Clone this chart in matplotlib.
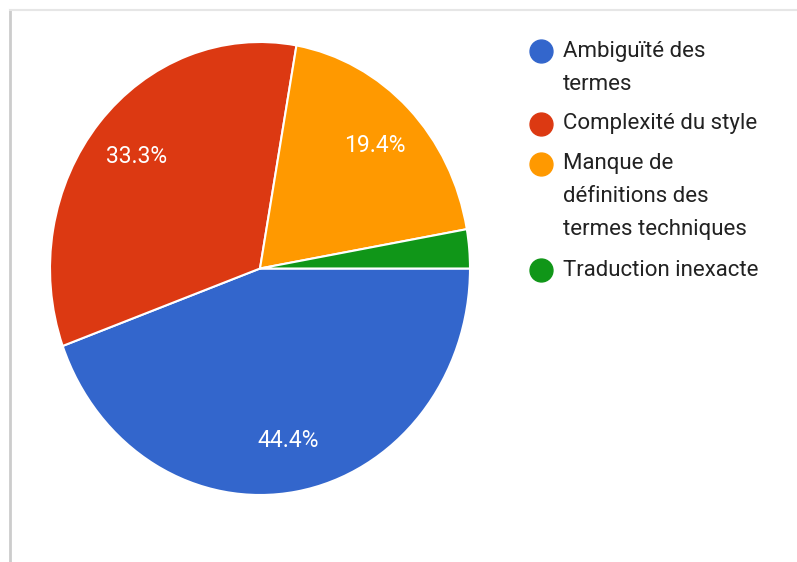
import matplotlib.pyplot as plt
from matplotlib.lines import Line2D

categories = [
    "Ambiguïté des\ntermes",
    "Complexité du style",
    "Manque de\ndéfinitions des\ntermes techniques",
    "Traduction inexacte",
]
counts = [16, 12, 7, 1]
colours = ["#3366CC", "#DC3912", "#FF9900", "#109618"]

W, H = 797, 562
fig = plt.figure(figsize=(W / 100, H / 100), dpi=100)
fig.patch.set_facecolor("white")

# pie box in pixels (the screenshot is a bit stretched vertically)
px_l, px_r, px_t, px_b = 50, 470, 42, 495
ax = fig.add_axes([px_l / W, (H - px_b) / H, (px_r - px_l) / W, (px_b - px_t) / H])


def pct(p):
    return f"{p:.1f}%" if p > 5 else ""


wedges, texts, autotexts = ax.pie(
    counts,
    colors=colours,
    startangle=0,
    counterclock=False,
    autopct=pct,
    pctdistance=0.77,
    radius=1.0,
    wedgeprops=dict(edgecolor="white", linewidth=1.5),
    textprops=dict(color="white", fontsize=16.5, family="Roboto"),
)
ax.set_aspect("auto")
ax.set_xlim(-1, 1)
ax.set_ylim(-1, 1)
for w in wedges:
    w.set_clip_on(False)

# legend drawn by hand so markers sit on the first line
y = 51
for label, colour in zip(categories, colours):
    fig.add_artist(Line2D([541 / W], [1 - y / H], marker="o", markersize=16.5,
                          color=colour, linestyle="none"))
    lines = label.split("\n")
    for i, line in enumerate(lines):
        fig.text(563 / W, 1 - (y + i * 33) / H, line, fontsize=16,
                 family="Roboto", color="#222222", va="center", ha="left")
    y += 33 * (len(lines) - 1) + 40

# screenshot frame
fig.add_artist(Line2D([10 / W, 10 / W], [0, 1 - 10 / H], color="#cccccc", lw=2))
fig.add_artist(Line2D([10 / W, 1], [1 - 10 / H, 1 - 10 / H], color="#e6e6e6", lw=1.5))

fig.savefig("out.png", dpi=100, facecolor="white")
